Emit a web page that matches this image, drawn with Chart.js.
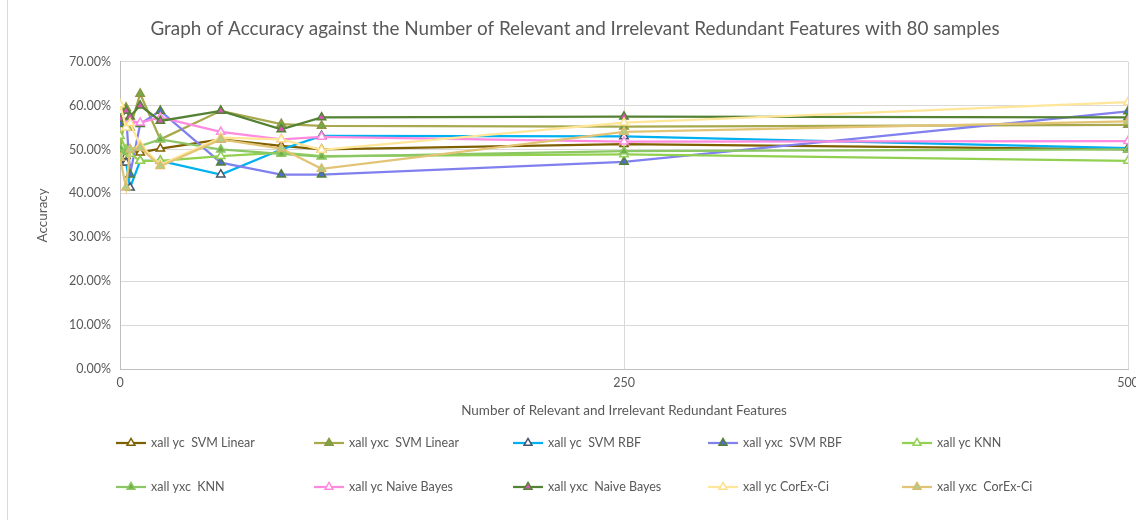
<!DOCTYPE html>
<html>
<head>
<meta charset="utf-8">
<script src="https://cdn.jsdelivr.net/npm/chart.js@4.4.1/dist/chart.umd.min.js"></script>
<style>
  html, body { margin: 0; padding: 0; background: #ffffff; }
  #wrap { width: 1136px; height: 520px; position: relative; }
</style>
</head>
<body>
<div id="wrap"><canvas id="chart" width="1136" height="520"></canvas></div>
<script>
// Number of relevant + irrelevant redundant features (x) and accuracy in percent (y)
const featureCounts = [0, 3, 5, 10, 20, 50, 80, 100, 250, 500];

const ycSvmLinear   = [47.0, 48.5, 49.5, 49.3, 50.2, 52.3, 50.8, 50.0, 51.2, 50.0];
const yxcSvmLinear  = [50.0, 59.5, 55.0, 62.7, 52.3, 58.8, 55.8, 55.4, 55.2, 55.6];
const ycSvmRbf      = [47.0, 47.0, 41.3, 47.4, 47.4, 44.3, 50.0, 53.1, 53.0, 50.3];
const yxcSvmRbf     = [55.8, 58.0, 44.3, 55.8, 58.8, 47.0, 44.3, 44.3, 47.2, 58.7];
const ycKnn         = [53.1, 50.0, 49.0, 47.4, 47.4, 48.5, 49.3, 48.5, 48.9, 47.4];
const yxcKnn        = [50.4, 49.5, 50.0, 50.8, 52.3, 50.0, 49.0, 48.4, 49.6, 50.0];
const ycNaiveBayes  = [58.4, 57.7, 56.5, 56.1, 57.3, 54.0, 52.3, 52.9, 51.8, 51.9];
const yxcNaiveBayes = [57.0, 58.8, 57.5, 60.0, 56.5, 58.8, 54.6, 57.3, 57.5, 57.3];
const ycCorEx       = [60.3, 55.0, 56.0, 51.0, 46.5, 52.7, 52.3, 49.9, 56.1, 60.8];
const yxcCorEx      = [48.1, 41.3, 50.0, 50.4, 46.2, 52.3, 50.2, 45.6, 54.0, 56.4];

const seriesLabels = [
  'xall yc  SVM Linear', 'xall yxc  SVM Linear', 'xall yc  SVM RBF', 'xall yxc  SVM RBF', 'xall yc KNN',
  'xall yxc  KNN', 'xall yc Naive Bayes', 'xall yxc  Naive Bayes', 'xall yc CorEx-Ci', 'xall yxc  CorEx-Ci'
];
const seriesValues = [
  ycSvmLinear, yxcSvmLinear, ycSvmRbf, yxcSvmRbf, ycKnn,
  yxcKnn, ycNaiveBayes, yxcNaiveBayes, ycCorEx, yxcCorEx
];

const xTickValues = [0, 250, 500];
const yTickValues = [0, 10, 20, 30, 40, 50, 60, 70];

// line colour, marker fill, marker outline
const seriesStyles = [
  { line: '#7F6000', fill: '#ffffff', edge: '#7F6000' },
  { line: '#A8A84E', fill: '#70AD47', edge: '#8E9440' },
  { line: '#00B0F0', fill: '#ffffff', edge: '#44546A' },
  { line: '#8080EE', fill: '#4F6FD0', edge: '#548235' },
  { line: '#92D050', fill: '#ffffff', edge: '#92D050' },
  { line: '#8CC765', fill: '#70AD47', edge: '#8CC765' },
  { line: '#FF8AE0', fill: '#ffffff', edge: '#FF8AE0' },
  { line: '#548235', fill: '#D955B5', edge: '#548235' },
  { line: '#FFE699', fill: '#ffffff', edge: '#FFE08A' },
  { line: '#E2C476', fill: '#A9D08E', edge: '#D8BC6C' }
];

const textColor = '#595959';
const fontFamily = 'Lato, "Open Sans", sans-serif';

const datasets = seriesValues.map((vals, i) => ({
  label: seriesLabels[i],
  data: featureCounts.map((x, k) => ({ x: x, y: vals[k] })),
  borderColor: seriesStyles[i].line,
  backgroundColor: seriesStyles[i].fill,
  borderWidth: 2.25,
  tension: 0,
  pointStyle: 'triangle',
  pointRadius: 4.8,
  pointHoverRadius: 4.8,
  pointBorderWidth: 1.5,
  pointBackgroundColor: seriesStyles[i].fill,
  pointBorderColor: seriesStyles[i].edge,
  order: seriesValues.length - i
}));

// Plain frame line on the left of the chart
const framePlugin = {
  id: 'frame',
  beforeDraw(chart) {
    const ctx = chart.ctx;
    ctx.save();
    ctx.fillStyle = '#ffffff';
    ctx.fillRect(0, 0, chart.width, chart.height);
    ctx.strokeStyle = '#d9d9d9';
    ctx.lineWidth = 1;
    ctx.beginPath();
    ctx.moveTo(7.5, 0);
    ctx.lineTo(7.5, chart.height);
    ctx.stroke();
    ctx.restore();
  }
};

// Two-row legend in fixed columns under the axis
const legendColumns = [116, 314, 513, 708, 902];
const legendRows = [443, 487];
const gridLegendPlugin = {
  id: 'gridLegend',
  afterDraw(chart) {
    const ctx = chart.ctx;
    ctx.save();
    chart.data.datasets.forEach((ds, i) => {
      const x0 = legendColumns[i % 5];
      const y = legendRows[Math.floor(i / 5)];
      ctx.strokeStyle = ds.borderColor;
      ctx.lineWidth = 2.25;
      ctx.beginPath();
      ctx.moveTo(x0, y);
      ctx.lineTo(x0 + 30, y);
      ctx.stroke();
      ctx.fillStyle = ds.pointBackgroundColor;
      ctx.strokeStyle = ds.pointBorderColor;
      ctx.lineWidth = ds.pointBorderWidth;
      Chart.helpers.drawPoint(ctx, { pointStyle: 'triangle', radius: 4.6, borderWidth: ds.pointBorderWidth, rotation: 0 }, x0 + 15, y);
      ctx.fillStyle = textColor;
      ctx.font = '12.5px ' + fontFamily;
      ctx.textAlign = 'left';
      ctx.textBaseline = 'middle';
      ctx.fillText(ds.label, x0 + 35, y);
    });
    ctx.restore();
  }
};

new Chart(document.getElementById('chart'), {
  type: 'line',
  data: { datasets: datasets },
  plugins: [framePlugin, gridLegendPlugin],
  options: {
    responsive: false,
    animation: false,
    devicePixelRatio: 1,
    layout: { padding: { left: 22, right: 8, top: 0, bottom: 95 } },
    plugins: {
      legend: { display: false },
      tooltip: { enabled: false },
      title: {
        display: true,
        text: 'Graph of Accuracy against the Number of Relevant and Irrelevant Redundant Features with 80 samples',
        color: textColor,
        font: { family: fontFamily, size: 18.9, weight: 'normal' },
        padding: { top: 18, bottom: 21 }
      }
    },
    scales: {
      x: {
        type: 'linear',
        min: 0,
        max: 500,
        afterBuildTicks: s => { s.ticks = xTickValues.map(v => ({ value: v })); },
        afterFit: s => { s.height = 56; s.paddingLeft = 0; s.paddingRight = 0; },
        ticks: { color: textColor, font: { family: fontFamily, size: 12.5 }, padding: 6, maxRotation: 0 },
        grid: { color: '#d9d9d9', drawTicks: false },
        border: { color: '#bfbfbf' },
        title: {
          display: true,
          text: 'Number of Relevant and Irrelevant Redundant Features',
          color: textColor,
          font: { family: fontFamily, size: 13.5 },
          padding: { top: 4, bottom: 6 }
        }
      },
      y: {
        min: 0,
        max: 70,
        afterBuildTicks: s => { s.ticks = yTickValues.map(v => ({ value: v })); },
        afterFit: s => { s.width = 98; },
        ticks: {
          color: textColor,
          font: { family: fontFamily, size: 12.5 },
          padding: 9,
          callback: v => Number(v).toFixed(2) + '%'
        },
        grid: { color: '#d9d9d9', drawTicks: false },
        border: { color: '#bfbfbf' },
        title: {
          display: true,
          text: 'Accuracy',
          color: textColor,
          font: { family: fontFamily, size: 13.5 },
          padding: { top: 13, bottom: 0 }
        }
      }
    }
  }
});
</script>
</body>
</html>
